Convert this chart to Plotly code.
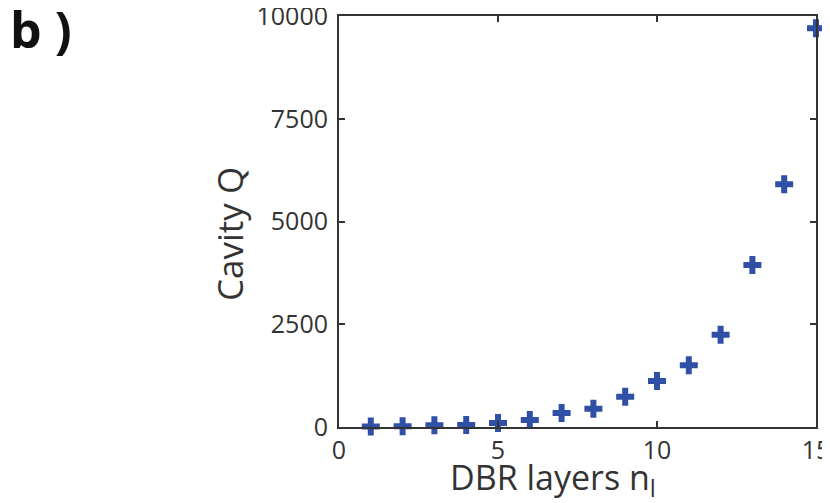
import plotly.graph_objects as go

layers = [1, 2, 3, 4, 5, 6, 7, 8, 9, 10, 11, 12, 13, 14, 15]
cavity_q = [10, 20, 40, 50, 100, 170, 340, 445, 737, 1120, 1500, 2245, 3940, 5905, 9700]

x_ticks = [0, 5, 10, 15]
y_ticks = [0, 2500, 5000, 7500, 10000]

font_family = "Open Sans, Lato, sans-serif"
text_color = "#333333"

# The page body has an 8px margin, so the figure is sized to fit the window.
W, H = 822, 495
ML, MR, MT, MB = 331, 14, 8, 76
PW, PH = W - ML - MR, H - MT - MB


def px_to_paper_x(px):
    return (px - ML) / PW


def px_to_paper_y(py):
    return (H - MB - py) / PH


fig = go.Figure()
fig.add_trace(go.Scatter(
    x=layers, y=cavity_q, mode="markers",
    marker=dict(symbol="cross", size=15, color="#3050a8", line=dict(width=0)),
    cliponaxis=False, showlegend=False,
))

axis_common = dict(
    showgrid=False, zeroline=False, showline=True, linecolor="#333333", linewidth=2,
    mirror="ticks", ticks="inside", ticklen=6, tickwidth=2, tickcolor="#333333",
    automargin=False, ticklabeloverflow="allow",
    tickfont=dict(family=font_family, size=25, color=text_color),
)

fig.update_layout(
    width=W, height=H,
    paper_bgcolor="white", plot_bgcolor="white",
    margin=dict(l=ML, r=MR, t=MT, b=MB),
    xaxis=dict(range=[0, 15], tickvals=x_ticks, ticktext=[str(v) for v in x_ticks],
               **axis_common),
    yaxis=dict(range=[0, 10000], tickvals=y_ticks, ticktext=[str(v) for v in y_ticks],
               ticklabelstandoff=4, **axis_common),
    annotations=[
        dict(text="<b>b )</b>", x=px_to_paper_x(0), y=px_to_paper_y(-15),
             xref="paper", yref="paper", xanchor="left", yanchor="top", showarrow=False,
             font=dict(family=font_family, size=50, color="#111111")),
        dict(text="DBR layers n<sub>l</sub>", x=px_to_paper_x(545), y=px_to_paper_y(444),
             xref="paper", yref="paper", xanchor="center", yanchor="top", showarrow=False,
             font=dict(family=font_family, size=34, color=text_color)),
        dict(text="Cavity Q", textangle=-90, x=px_to_paper_x(221), y=px_to_paper_y(226),
             xref="paper", yref="paper", xanchor="center", yanchor="middle", showarrow=False,
             font=dict(family=font_family, size=35, color=text_color)),
    ],
)

fig.write_html("out.html")
